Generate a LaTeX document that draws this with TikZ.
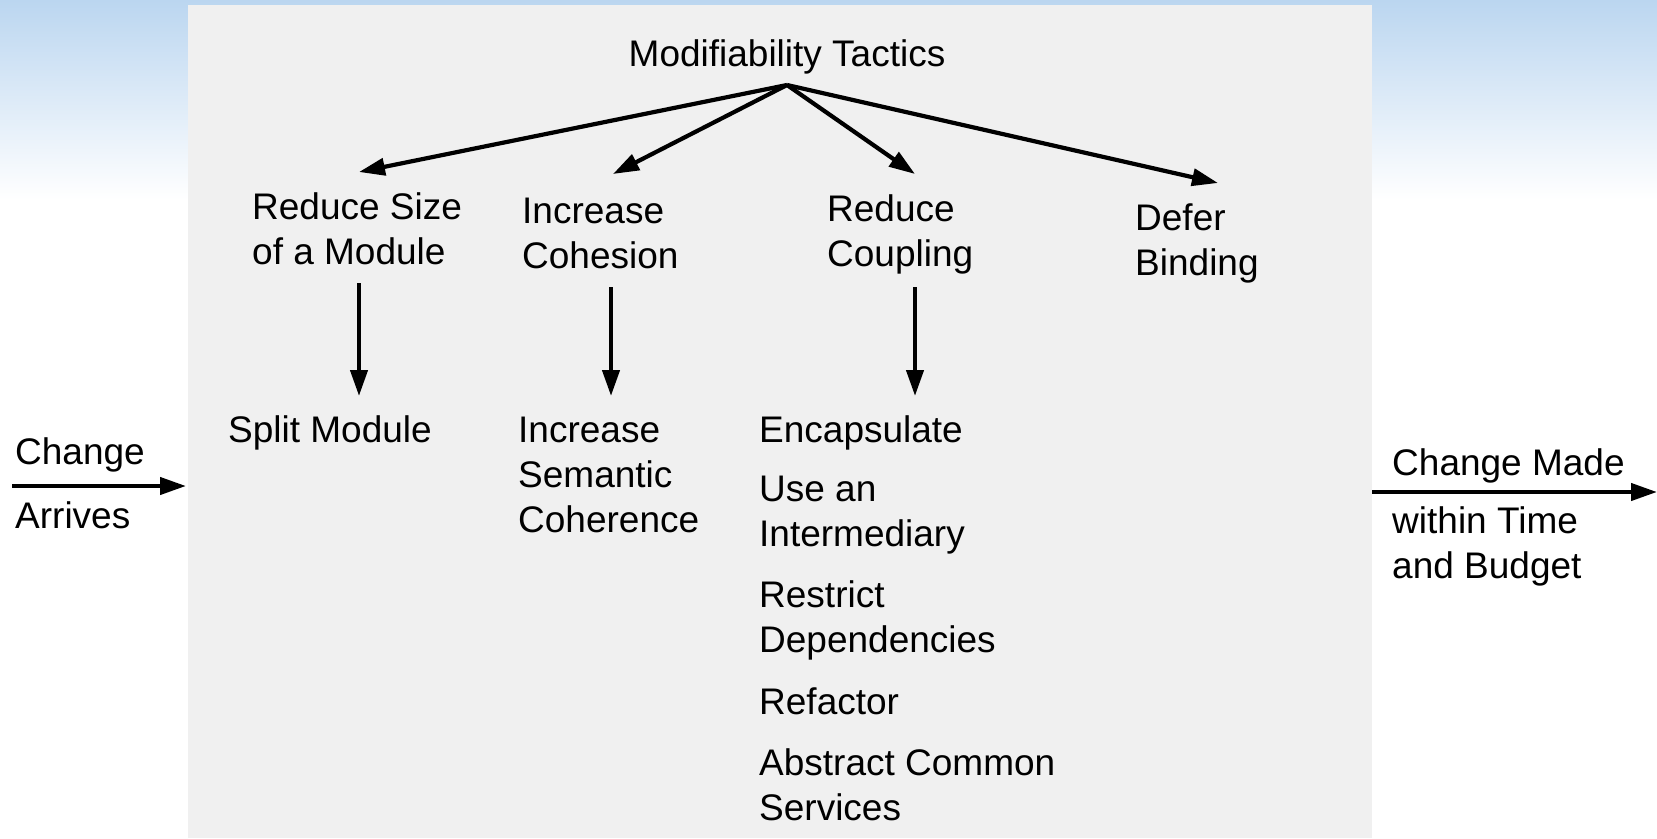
\documentclass[tikz,border=0pt]{standalone}
\usepackage{fontspec}
\setmainfont{Liberation Sans}
\usetikzlibrary{arrows.meta,calc}
\definecolor{panelgray}{RGB}{240,240,240}
\definecolor{skyblue}{RGB}{187,214,240}
\tikzset{
  lbl/.style={font=\fontsize{37}{45}\selectfont, inner sep=0pt, align=left, text=black},
  arr/.style={line width=4.2pt, -{Triangle[length=26pt,width=17pt]}},
}
\begin{document}
\begin{tikzpicture}[x=1pt,y=-1pt]
\useasboundingbox (0,0) rectangle (1657,838);
\fill[white] (0,0) rectangle (1657,838);
\shade[top color=skyblue, bottom color=white] (0,0) rectangle (1657,200);
\node[fill=panelgray, minimum width=1184pt, minimum height=833pt, inner sep=0pt, anchor=north west] (panel) at (188,5) {};

% top
\node[lbl, anchor=base] (top) at (787,66) {Modifiability Tactics};
% categories
\node[lbl, anchor=west] (rs) at (252,229) {Reduce Size\\of a Module};
\node[lbl, anchor=west] (ic) at (522,233) {Increase\\Cohesion};
\node[lbl, anchor=west] (rc) at (827,234) {Reduce\\Coupling};
\node[lbl, anchor=west] (db) at (1135,243) {Defer\\Binding};
% tactics
\node[lbl, anchor=base west] (sm) at (228,442) {Split Module};
\node[lbl, anchor=west] (isc) at (518,475) {Increase\\Semantic\\Coherence};
\node[lbl, anchor=base west] (enc) at (759,442) {Encapsulate};
\node[lbl, anchor=west] (uai) at (759,515) {Use an\\Intermediary};
\node[lbl, anchor=west] (rd) at (759,620) {Restrict\\Dependencies};
\node[lbl, anchor=base west] (ref) at (759,714) {Refactor};
\node[lbl, anchor=west] (acs) at (759,785) {Abstract Common\\Services};
% stimulus / response
\node[lbl, anchor=base west] (ca1) at (15,464) {Change};
\node[lbl, anchor=base west] (ca2) at (15,528) {Arrives};
\node[lbl, anchor=base west] (cm1) at (1392,475) {Change Made};
\node[lbl, anchor=west] (cm2) at (1392,546) {within Time\\and Budget};

% connector end points
\coordinate (apex) at (787,85);
\coordinate (rs-in) at (359,172);
\coordinate (ic-in) at (613,174);
\coordinate (rc-in) at (915,174);
\coordinate (db-in) at (1218,183);
\coordinate (rs-out) at (359,283);
\coordinate (sm-in) at (359,396);
\coordinate (ic-out) at (611,287);
\coordinate (isc-in) at (611,396);
\coordinate (rc-out) at (915,287);
\coordinate (enc-in) at (915,396);
\coordinate (in-s) at (12,486);
\coordinate (in-e) at (186,486);
\coordinate (out-s) at (1372,492);
\coordinate (out-e) at (1657,492);

\draw[arr] (apex) -- (rs-in);
\draw[arr] (apex) -- (ic-in);
\draw[arr] (apex) -- (rc-in);
\draw[arr] (apex) -- (db-in);
\draw[arr] (rs-out) -- (sm-in);
\draw[arr] (ic-out) -- (isc-in);
\draw[arr] (rc-out) -- (enc-in);
\draw[arr] (in-s) -- (in-e);
\draw[arr] (out-s) -- (out-e);
\end{tikzpicture}
\end{document}
